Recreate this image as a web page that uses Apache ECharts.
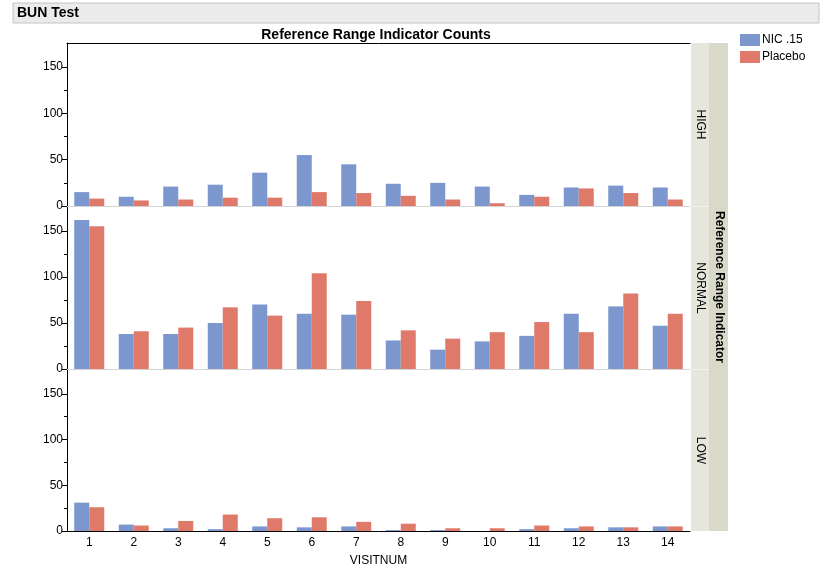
<!DOCTYPE html>
<html>
<head>
<meta charset="utf-8">
<script src="https://cdn.jsdelivr.net/npm/echarts@6/dist/echarts.min.js"></script>
<style>html,body{margin:0;padding:0;background:#fff}#c{width:824px;height:574px}</style>
</head>
<body>
<div id="c"></div>
<script>
const visits = ['1','2','3','4','5','6','7','8','9','10','11','12','13','14'];
const panels = ['HIGH','NORMAL','LOW'];
const seriesNames = ['NIC .15','Placebo'];
const highNic     = [15,10,21,23,36,55,45,24,25,21,12,20,22,20];
const highPlacebo = [8,6,7,9,9,15,14,11,7,3,10,19,14,7];
const normalNic     = [162,38,38,50,70,60,59,31,21,30,36,60,68,47];
const normalPlacebo = [155,41,45,67,58,104,74,42,33,40,51,40,82,60];
const lowNic     = [31,7,3,2,5,4,5,1,1,0,2,3,4,5];
const lowPlacebo = [26,6,11,18,14,15,10,8,3,3,6,5,4,5];
const yLabels = [0,50,100,150];
const yMinor = [25,75,125];

const panelData = [[highNic,highPlacebo],[normalNic,normalPlacebo],[lowNic,lowPlacebo]];
const colors = ['#7b97cd','#df7a6a'];
const FONT = 'Liberation Sans, Arial, sans-serif';
const L = 67, R = 690;
const grids = [{top:43,height:163},{top:207,height:162},{top:370,height:161}];
const YMAX = 176;

const chart = echarts.init(document.getElementById('c'));
const xAxes = [], yAxes = [], series = [];
grids.forEach((g,i) => {
  const last = i === grids.length-1;
  xAxes.push({
    type:'category', gridIndex:i, data:visits,
    axisLine:{show:true, lineStyle:{color: last ? '#000' : '#d4d4d4', width:1}},
    axisTick:{show:false},
    axisLabel:{show:last, color:'#000', fontFamily:FONT, fontSize:12, margin:6},
    name: last ? 'VISITNUM' : '', nameLocation:'middle', nameGap:24,
    nameTextStyle:{color:'#000', fontFamily:FONT, fontSize:12}
  });
  yAxes.push({
    type:'value', gridIndex:i, position:'left', min:0, max:YMAX,
    axisLine:{show:true, lineStyle:{color:'#000'}},
    axisTick:{show:true, inside:false, length:5, customValues:yLabels, lineStyle:{color:'#000'}},
    axisLabel:{show:true, customValues:yLabels, color:'#000', fontFamily:FONT, fontSize:12, margin:4},
    splitLine:{show:false}
  });
  yAxes.push({
    type:'value', gridIndex:i, position:'left', min:0, max:YMAX,
    axisLine:{show:false},
    axisTick:{show:true, inside:false, length:3, customValues:yMinor, lineStyle:{color:'#000'}},
    axisLabel:{show:false},
    splitLine:{show:false}
  });
  panelData[i].forEach((d,k) => {
    series.push({
      type:'bar', name:seriesNames[k], xAxisIndex:i, yAxisIndex:i*2, data:d,
      barWidth:15, barGap:'0%', itemStyle:{color:colors[k]}, silent:true
    });
  });
});
// top border of first panel
xAxes.push({type:'category', gridIndex:0, position:'top', data:visits,
  axisLine:{show:true, onZero:false, lineStyle:{color:'#000'}}, axisTick:{show:false}, axisLabel:{show:false}});

const graphic = [
  {type:'rect', shape:{x:13,y:3,width:806,height:20}, style:{fill:'#ebebeb', stroke:'#c4c4c4', lineWidth:1}},
  {type:'text', x:17, y:13, style:{text:'BUN Test', font:'bold 14px '+FONT, fill:'#000', textVerticalAlign:'middle'}},
  {type:'rect', shape:{x:R+1, y:grids[0].top, width:18, height:grids[2].top+grids[2].height-grids[0].top}, style:{fill:'#e6e6dd'}},
  {type:'rect', shape:{x:R+19, y:grids[0].top, width:19, height:grids[2].top+grids[2].height-grids[0].top}, style:{fill:'#d9d9ca'}},
  {type:'text', x:R+29, y:(grids[0].top+grids[2].top+grids[2].height)/2, rotation:-Math.PI/2,
    style:{text:'Reference Range Indicator', font:'bold 12px '+FONT, fill:'#000', textAlign:'center', textVerticalAlign:'middle'}}
];
grids.forEach((g,i) => {
  graphic.push({type:'text', x:R+10, y:g.top+g.height/2, rotation:-Math.PI/2,
    style:{text:panels[i], font:'12px '+FONT, fill:'#000', textAlign:'center', textVerticalAlign:'middle'}});
  if (i>0) graphic.push({type:'rect', shape:{x:R+1, y:g.top-1, width:18, height:1}, style:{fill:'#f2f2ec'}});
});

chart.setOption({
  animation:false,
  title:{text:'Reference Range Indicator Counts', left:371, textAlign:'center', top:23,
    textStyle:{fontFamily:FONT, fontSize:14, fontWeight:'bold', color:'#000'}},
  legend:{orient:'vertical', left:735, top:29, itemWidth:20, itemHeight:12, itemGap:5,
    icon:'rect', data:seriesNames, selectedMode:false,
    textStyle:{fontFamily:FONT, fontSize:12, color:'#000', padding:[0,0,0,-3]}},
  grid: grids.map(g => ({left:L, width:R-L, top:g.top, height:g.height})),
  xAxis:xAxes, yAxis:yAxes, series:series, graphic:graphic
});
</script>
</body>
</html>
